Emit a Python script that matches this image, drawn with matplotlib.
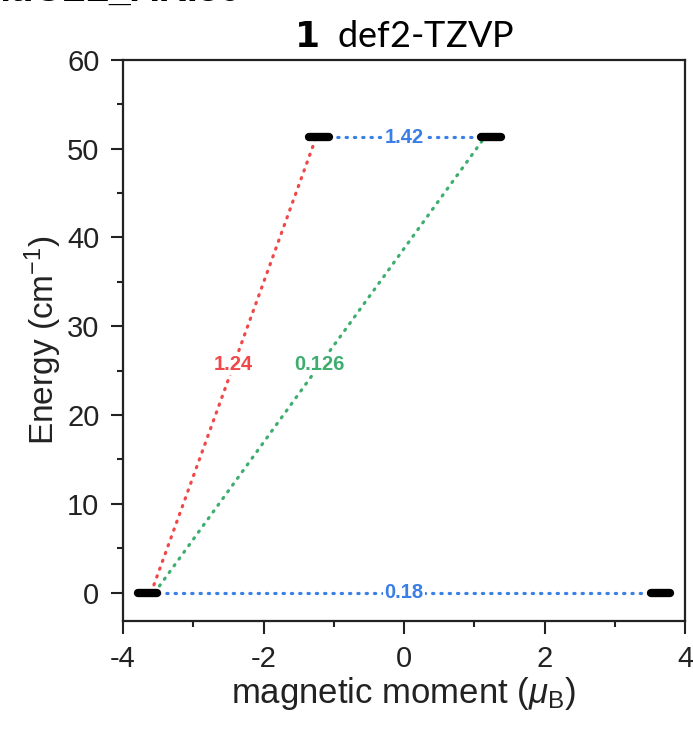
import matplotlib
matplotlib.use("Agg")
import matplotlib.pyplot as plt
from matplotlib.ticker import MultipleLocator

plt.rcParams['font.family'] = ['Liberation Sans', 'DejaVu Sans']
plt.rcParams['mathtext.fontset'] = 'custom'
plt.rcParams['mathtext.rm'] = 'Liberation Sans'
plt.rcParams['mathtext.it'] = 'Liberation Sans:italic'

# Energy levels: magnetic moment (muB) and energy (cm^-1)
level_moment = [-3.65, 3.65, -1.21, 1.24]
level_energy = [0.0, 0.0, 51.3, 51.3]
level_halfwidth = 0.14

# Transitions between levels: start/end points, labels, colours
trans_x0 = [-3.50, -1.07, -3.60, -3.55]
trans_y0 = [0.0, 51.3, 0.0, 0.0]
trans_x1 = [3.50, 1.08, -1.25, 1.15]
trans_y1 = [0.0, 51.3, 51.3, 51.3]
trans_label = ['0.18', '1.42', '1.24', '0.126']
trans_color = ['#3a7fe6', '#3a7fe6', '#f04848', '#3dae6e']

x_ticks = [-4, -2, 0, 2, 4]
y_ticks = [0, 10, 20, 30, 40, 50, 60]

fig = plt.figure(figsize=(6.93, 7.35), dpi=100)
ax = fig.add_axes([0.1775, 0.155, 0.811, 0.7635])

for x0, y0, x1, y1, lab, c in zip(trans_x0, trans_y0, trans_x1, trans_y1,
                                   trans_label, trans_color):
    ax.plot([x0, x1], [y0, y1], color=c, lw=2.3, dashes=(0.4, 2.2),
            dash_capstyle='round', zorder=2)
    ax.text((x0 + x1) / 2, (y0 + y1) / 2, lab, color=c, fontsize=14.5,
            fontweight='bold', ha='center', va='center', zorder=3,
            bbox=dict(boxstyle='square,pad=0.05', fc='white', ec='none'))

for m, e in zip(level_moment, level_energy):
    ax.plot([m - level_halfwidth, m + level_halfwidth], [e, e], color='black',
            lw=6, solid_capstyle='round', zorder=4)

ax.set_xlim(-4, 4)
ax.set_ylim(-3.2, 60)
ax.set_xticks(x_ticks)
ax.set_yticks(y_ticks)
ax.set_xticklabels([str(t) for t in x_ticks])
ax.xaxis.set_minor_locator(MultipleLocator(1))
ax.yaxis.set_minor_locator(MultipleLocator(5))
ax.tick_params(which='major', direction='out', length=9, width=1.5,
               labelsize=21, pad=8, colors='#222222')
ax.tick_params(which='minor', direction='out', length=4.5, width=1.5,
               colors='#222222')
for s in ax.spines.values():
    s.set_linewidth(1.6)
    s.set_color('#222222')

ax.set_xlabel(r'magnetic moment ($\mu_{\mathrm{B}}$)', fontsize=25,
              labelpad=2, color='#222222')
ax.set_ylabel(r'Energy (cm$^{-1}$)', fontsize=24, labelpad=2,
              color='#222222')

fig.text(0.5835, 0.950, r'$\mathbf{1}$  def2-TZVP', fontsize=26,
         family='Lato', ha='center', va='center', color='black')
fig.text(-0.02, 1.012, 'nt.CLL_ARI50', fontsize=28, fontweight='bold',
         ha='left', va='center', color='black')

fig.savefig('out.png', dpi=100)
